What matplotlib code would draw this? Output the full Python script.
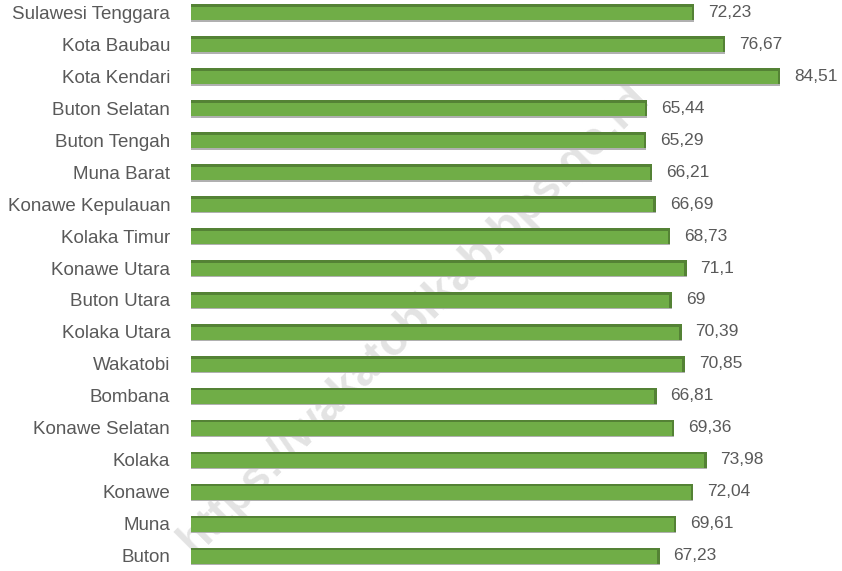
import matplotlib
matplotlib.use("Agg")
import matplotlib.pyplot as plt

# data, listed bottom to top
regions = ["Buton", "Muna", "Konawe", "Kolaka", "Konawe Selatan", "Bombana",
           "Wakatobi", "Kolaka Utara", "Buton Utara", "Konawe Utara", "Kolaka Timur",
           "Konawe Kepulauan", "Muna Barat", "Buton Tengah", "Buton Selatan",
           "Kota Kendari", "Kota Baubau", "Sulawesi Tenggara"]
values = [67.23, 69.61, 72.04, 73.98, 69.36, 66.81, 70.85, 70.39, 69, 71.1,
          68.73, 66.69, 66.21, 65.29, 65.44, 84.51, 76.67, 72.23]
value_labels = ["67,23", "69,61", "72,04", "73,98", "69,36", "66,81", "70,85", "70,39",
                "69", "71,1", "68,73", "66,69", "66,21", "65,29", "65,44", "84,51",
                "76,67", "72,23"]

plt.rcParams['font.family'] = ['Liberation Sans', 'DejaVu Sans']

fig = plt.figure(figsize=(8.42, 5.71), dpi=100)
ax = fig.add_axes([191 / 842, 4 / 571, 651 / 842, 566 / 571])
ax.patch.set_visible(False)

ypos = list(range(len(values)))
green = "#70AD47"
dark = "#548235"

ax.barh(ypos, values, height=0.5, color=green, zorder=2)
# darker top edge, grey shadow under, darker right cap for the 3d look
ax.barh([y + 0.21 for y in ypos], values, height=0.08, color=dark, zorder=3)
ax.barh([y - 0.27 for y in ypos], values, height=0.05, color="#b0b0b0", zorder=1)
ax.barh(ypos, [0.35] * len(values), left=[v - 0.35 for v in values], height=0.5,
        color=dark, zorder=3)

for y, v, lab in zip(ypos, values, value_labels):
    ax.text(v + 2.0, y, lab, va="center", ha="left", fontsize=12.5, color="#595959")

ax.set_yticks(ypos)
ax.set_yticklabels(regions, fontsize=13.5, color="#595959")
ax.tick_params(axis="y", length=0, pad=15)
ax.set_xticks([])
ax.set_xlim(0, 93.4)
ax.set_ylim(-0.35, 17.35)
for s in ax.spines.values():
    s.set_visible(False)

# watermark behind the bars
fig.text(0.492, 0.44, "https://wakatobikab.bps.go.id", rotation=45, fontsize=33,
         fontweight="bold", color="#e3e3e3", ha="center", va="center", zorder=-1)

fig.savefig("out.png", dpi=100)
